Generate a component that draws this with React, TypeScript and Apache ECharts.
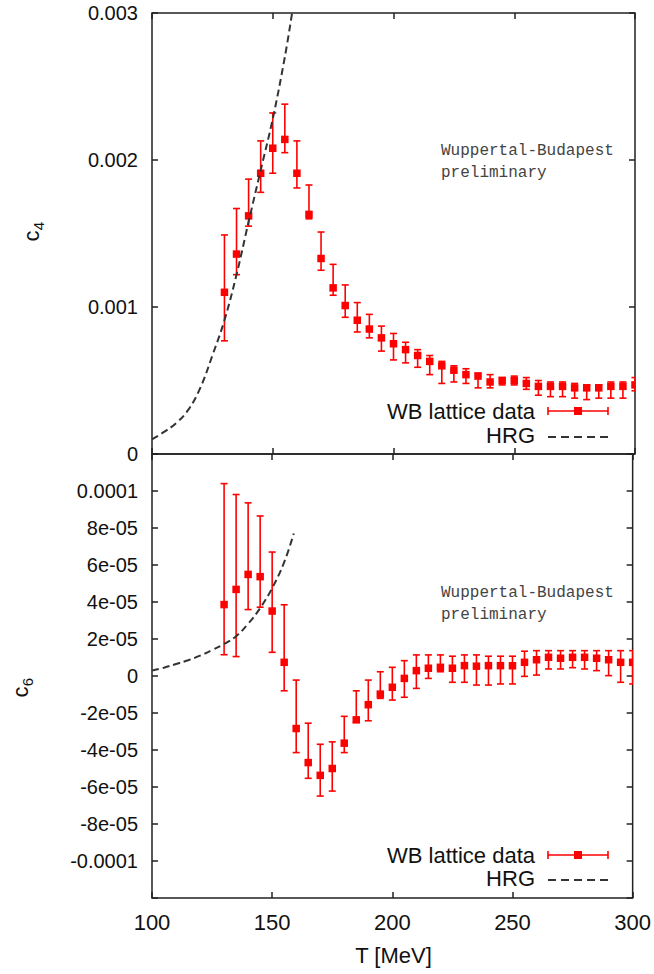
import React, { useEffect, useRef } from "react";
import * as echarts from "echarts";

// Temperatures of lattice points [MeV]
const temps = [130,135,140,145,150,155,160,165,170,175,180,185,190,195,200,205,210,215,220,225,230,235,240,245,250,255,260,265,270,275,280,285,290,295,300];

// c4 lattice data (value, lower, upper)
const c4Val = [1.10e-3,1.36e-3,1.62e-3,1.91e-3,2.08e-3,2.14e-3,1.91e-3,1.63e-3,1.33e-3,1.13e-3,1.01e-3,0.91e-3,0.85e-3,0.79e-3,0.75e-3,0.71e-3,0.67e-3,0.63e-3,0.60e-3,0.57e-3,0.54e-3,0.53e-3,0.49e-3,0.50e-3,0.50e-3,0.48e-3,0.46e-3,0.46e-3,0.46e-3,0.45e-3,0.45e-3,0.45e-3,0.46e-3,0.46e-3,0.47e-3];
const c4Lo = [0.77e-3,1.22e-3,1.55e-3,1.78e-3,1.91e-3,2.05e-3,1.81e-3,1.60e-3,1.25e-3,1.08e-3,0.93e-3,0.83e-3,0.79e-3,0.70e-3,0.64e-3,0.62e-3,0.59e-3,0.54e-3,0.48e-3,0.49e-3,0.48e-3,0.45e-3,0.45e-3,0.47e-3,0.47e-3,0.44e-3,0.40e-3,0.39e-3,0.39e-3,0.38e-3,0.37e-3,0.38e-3,0.38e-3,0.38e-3,0.43e-3];
const c4Hi = [1.49e-3,1.67e-3,1.87e-3,2.13e-3,2.32e-3,2.38e-3,2.13e-3,1.83e-3,1.51e-3,1.29e-3,1.15e-3,1.03e-3,0.95e-3,0.87e-3,0.82e-3,0.76e-3,0.71e-3,0.67e-3,0.63e-3,0.60e-3,0.58e-3,0.55e-3,0.54e-3,0.52e-3,0.53e-3,0.52e-3,0.50e-3,0.49e-3,0.49e-3,0.48e-3,0.47e-3,0.47e-3,0.49e-3,0.49e-3,0.52e-3];

// c6 lattice data (value, lower, upper)
const c6Val = [3.86e-5,4.68e-5,5.49e-5,5.37e-5,3.51e-5,0.74e-5,-2.84e-5,-4.68e-5,-5.37e-5,-5.00e-5,-3.63e-5,-2.37e-5,-1.55e-5,-0.98e-5,-0.61e-5,-0.13e-5,0.29e-5,0.42e-5,0.47e-5,0.42e-5,0.56e-5,0.53e-5,0.56e-5,0.56e-5,0.56e-5,0.74e-5,0.88e-5,1.01e-5,0.96e-5,1.01e-5,1.01e-5,0.96e-5,0.88e-5,0.74e-5,0.74e-5];
const c6Lo = [1.15e-5,1.05e-5,3.59e-5,3.72e-5,1.28e-5,-0.80e-5,-4.14e-5,-5.53e-5,-6.49e-5,-6.22e-5,-4.14e-5,-2.50e-5,-2.42e-5,-1.21e-5,-1.30e-5,-1.15e-5,-0.67e-5,-0.13e-5,0.23e-5,-0.34e-5,-0.34e-5,-0.49e-5,-0.49e-5,-0.43e-5,-0.43e-5,-0.02e-5,0.05e-5,0.38e-5,0.38e-5,0.45e-5,0.38e-5,0.29e-5,0.02e-5,-0.34e-5,-0.43e-5];
const c6Hi = [10.4e-5,9.81e-5,9.36e-5,8.65e-5,6.70e-5,3.85e-5,-0.22e-5,-2.55e-5,-3.69e-5,-3.56e-5,-2.18e-5,-0.80e-5,-0.22e-5,0.23e-5,0.47e-5,0.83e-5,1.14e-5,1.14e-5,1.14e-5,1.07e-5,1.14e-5,1.14e-5,1.07e-5,1.07e-5,1.07e-5,1.34e-5,1.37e-5,1.37e-5,1.37e-5,1.37e-5,1.37e-5,1.37e-5,1.37e-5,1.37e-5,1.37e-5];

// HRG curves
const hrgT4 = [100,105,110,115,120,125,130,135,140,145,150,155,158];
const hrgC4 = [0.10e-3,0.15e-3,0.21e-3,0.30e-3,0.45e-3,0.67e-3,0.91e-3,1.22e-3,1.58e-3,1.93e-3,2.28e-3,2.70e-3,3.0e-3];
const hrgT6 = [100,105,110,115,120,125,130,135,140,145,150,155,159];
const hrgC6 = [0.29e-5,0.45e-5,0.65e-5,0.85e-5,1.10e-5,1.40e-5,1.73e-5,2.15e-5,2.82e-5,3.67e-5,4.75e-5,6.15e-5,7.70e-5];

const xTicks = [100, 150, 200, 250, 300];
const c4Ticks = ["0", "0.001", "0.002", "0.003"];

const FONT = "'Liberation Sans', Arial, Helvetica, sans-serif";
const MONO = "'Liberation Mono', 'DejaVu Sans Mono', monospace";
const RED = "#ff0000";

function c6Label(v: number): string {
  const k = Math.round(v / 1e-5);
  if (Math.abs(k) >= 12) return "";
  if (k === 0) return "0";
  if (Math.abs(k) === 10) return (k < 0 ? "-" : "") + "0.0001";
  return (k < 0 ? "-" : "") + Math.abs(k) + "e-05";
}

function c4Label(v: number): string {
  const k = Math.round(v / 1e-3);
  return c4Ticks[k] ?? "";
}

function errRender(params: any, api: any) {
  const x = api.value(0);
  const pv = api.coord([x, api.value(1)]);
  const pl = api.coord([x, api.value(2)]);
  const ph = api.coord([x, api.value(3)]);
  const cap = 3.5;
  const s = 7.5;
  const ls = { stroke: RED, lineWidth: 1.6 };
  return {
    type: "group",
    children: [
      { type: "line", shape: { x1: pv[0], y1: pl[1], x2: pv[0], y2: ph[1] }, style: ls },
      { type: "line", shape: { x1: pv[0] - cap, y1: pl[1], x2: pv[0] + cap, y2: pl[1] }, style: ls },
      { type: "line", shape: { x1: pv[0] - cap, y1: ph[1], x2: pv[0] + cap, y2: ph[1] }, style: ls },
      { type: "rect", shape: { x: pv[0] - s / 2, y: pv[1] - s / 2, width: s, height: s }, style: { fill: RED } },
    ],
  };
}

function legend(yData: number, yHrg: number) {
  const ls = { stroke: RED, lineWidth: 1.6 };
  return [
    { type: "text", x: 535, y: yData, style: { text: "WB lattice data", font: `22px ${FONT}`, fill: "#111", textAlign: "right", textVerticalAlign: "middle" } },
    { type: "line", shape: { x1: 548, y1: yData, x2: 608, y2: yData }, style: ls },
    { type: "line", shape: { x1: 548, y1: yData - 4, x2: 548, y2: yData + 4 }, style: ls },
    { type: "line", shape: { x1: 608, y1: yData - 4, x2: 608, y2: yData + 4 }, style: ls },
    { type: "rect", shape: { x: 574, y: yData - 4, width: 8, height: 8 }, style: { fill: RED } },
    { type: "text", x: 535, y: yHrg, style: { text: "HRG", font: `22px ${FONT}`, fill: "#111", textAlign: "right", textVerticalAlign: "middle" } },
    { type: "line", shape: { x1: 548, y1: yHrg + 2, x2: 608, y2: yHrg + 2 }, style: { stroke: "#333", lineWidth: 2, lineDash: [8, 5] } },
  ];
}

function annotation(y: number) {
  return {
    type: "text",
    x: 441,
    y: y,
    style: {
      text: "Wuppertal-Budapest\npreliminary",
      font: `16px ${MONO}`,
      fill: "#444",
      lineHeight: 22,
      textAlign: "left",
      textVerticalAlign: "top",
    },
  };
}

function yName(x: number, y: number, sub: string) {
  return {
    type: "group",
    x: x,
    y: y,
    rotation: Math.PI / 2,
    children: [
      { type: "text", x: 0, y: 0, style: { text: "c", font: `22px ${FONT}`, fill: "#111", textAlign: "center", textVerticalAlign: "middle" } },
      { type: "text", x: 10, y: 7, style: { text: sub, font: `15px ${FONT}`, fill: "#111", textAlign: "center", textVerticalAlign: "middle" } },
    ],
  };
}

export default function App() {
  const ref = useRef<HTMLDivElement>(null);
  useEffect(() => {
    if (!ref.current) return;
    const chart = echarts.init(ref.current, null, { renderer: "svg" });
    const xBase = {
      type: "value",
      min: xTicks[0],
      max: xTicks[xTicks.length - 1],
      interval: 50,
      axisLine: { show: false, onZero: false },
      axisTick: { show: true, inside: true, length: 6, lineStyle: { color: "#222", width: 1.5 } },
      splitLine: { show: false },
      axisLabel: { show: false },
    };
    const yTickStyle = { show: true, inside: true, length: 6, lineStyle: { color: "#222", width: 1.5 } };
    const yLine = { show: false, onZero: false };
    const c4Data = temps.map((t, i) => [t, c4Val[i], c4Lo[i], c4Hi[i]]);
    const c6Data = temps.map((t, i) => [t, c6Val[i], c6Lo[i], c6Hi[i]]);
    const option: any = {
      animation: false,
      backgroundColor: "#fff",
      grid: [
        { left: 152, right: 19, top: 13, height: 441, show: true, borderColor: "#222", borderWidth: 1.5, backgroundColor: "transparent" },
        { left: 152, right: 19, top: 454, height: 444, show: true, borderColor: "#222", borderWidth: 1.5, backgroundColor: "transparent" },
      ],
      xAxis: [
        { ...xBase, gridIndex: 0, position: "bottom" },
        { ...xBase, gridIndex: 0, position: "top" },
        {
          ...xBase,
          gridIndex: 1,
          position: "bottom",
          axisLabel: { show: true, fontSize: 22, fontFamily: FONT, color: "#111", margin: 13 },
        },
        { ...xBase, gridIndex: 1, position: "top" },
      ],
      yAxis: [
        {
          type: "value", gridIndex: 0, position: "left", min: 0, max: 0.003, interval: 0.001,
          axisLine: yLine, splitLine: { show: false }, axisTick: yTickStyle,
          axisLabel: { show: true, fontSize: 20, fontFamily: FONT, color: "#111", margin: 14, formatter: c4Label },
        },
        {
          type: "value", gridIndex: 0, position: "right", min: 0, max: 0.003, interval: 0.001,
          axisLine: yLine, splitLine: { show: false }, axisTick: yTickStyle, axisLabel: { show: false },
        },
        {
          type: "value", gridIndex: 1, position: "left", min: -1.2e-4, max: 1.2e-4, interval: 2e-5,
          axisLine: yLine, splitLine: { show: false }, axisTick: yTickStyle,
          axisLabel: { show: true, fontSize: 20, fontFamily: FONT, color: "#111", margin: 14, formatter: c6Label },
        },
        {
          type: "value", gridIndex: 1, position: "right", min: -1.2e-4, max: 1.2e-4, interval: 2e-5,
          axisLine: yLine, splitLine: { show: false }, axisTick: yTickStyle, axisLabel: { show: false },
        },
      ],
      series: [
        {
          type: "line", xAxisIndex: 0, yAxisIndex: 0,
          data: hrgT4.map((t, i) => [t, hrgC4[i]]),
          showSymbol: false, smooth: 0.4, clip: true,
          lineStyle: { color: "#333", width: 2, type: [7, 4] },
        },
        {
          type: "custom", xAxisIndex: 0, yAxisIndex: 0, data: c4Data, renderItem: errRender, clip: true,
          encode: { x: 0, y: [1, 2, 3] },
        },
        {
          type: "line", xAxisIndex: 2, yAxisIndex: 2,
          data: hrgT6.map((t, i) => [t, hrgC6[i]]),
          showSymbol: false, smooth: 0.4, clip: true,
          lineStyle: { color: "#333", width: 2, type: [7, 4] },
        },
        {
          type: "custom", xAxisIndex: 2, yAxisIndex: 2, data: c6Data, renderItem: errRender, clip: true,
          encode: { x: 0, y: [1, 2, 3] },
        },
      ],
      graphic: [
        annotation(140),
        annotation(582),
        ...legend(411, 435),
        ...legend(855, 878),
        yName(31, 236, "4"),
        yName(20, 692, "6"),
        {
          type: "text", x: 393.5, y: 955,
          style: { text: "T [MeV]", font: `22px ${FONT}`, fill: "#111", textAlign: "center", textVerticalAlign: "middle" },
        },
      ],
    };
    chart.setOption(option);
    return () => chart.dispose();
  }, []);
  return <div ref={ref} style={{ position: "fixed", left: 0, top: 0, width: 654, height: 974, background: "#fff" }} />;
}
